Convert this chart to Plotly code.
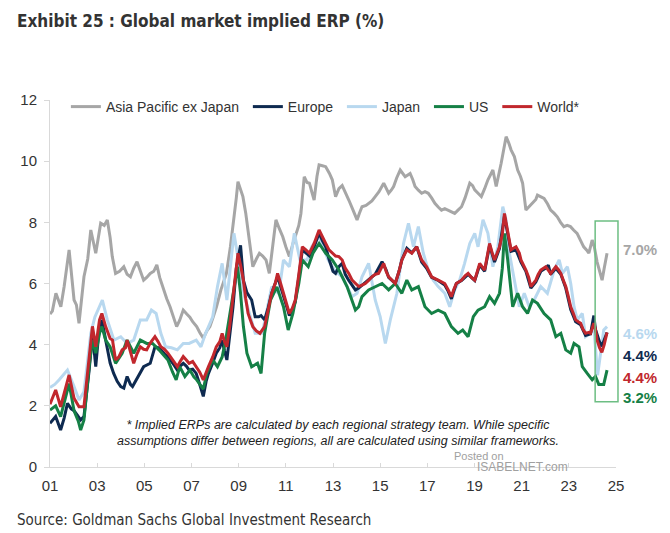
import plotly.graph_objects as go

# ---------------- data (decimal years, ERP %) ----------------
apxj_t = [2001.00, 2001.10, 2001.25, 2001.46, 2001.60, 2001.81, 2002.02, 2002.12, 2002.23, 2002.44,
          2002.60, 2002.73, 2002.94, 2003.15, 2003.30, 2003.43, 2003.55, 2003.64, 2003.78, 2003.95,
          2004.13, 2004.27, 2004.41, 2004.55, 2004.69, 2004.85, 2004.97, 2005.10, 2005.25, 2005.40,
          2005.53, 2005.65, 2005.81, 2005.95, 2006.09, 2006.25, 2006.37, 2006.50, 2006.65, 2006.80,
          2006.93, 2007.05, 2007.22, 2007.35, 2007.50, 2007.65, 2007.78, 2007.92, 2008.06, 2008.25,
          2008.48, 2008.65, 2008.76, 2008.90, 2008.97, 2009.08, 2009.18, 2009.30, 2009.39, 2009.50,
          2009.60, 2009.75, 2009.88, 2010.02, 2010.16, 2010.30, 2010.45, 2010.58, 2010.72, 2010.87,
          2011.00, 2011.15, 2011.30, 2011.43, 2011.55, 2011.64, 2011.78, 2011.90, 2012.00, 2012.10,
          2012.20, 2012.32, 2012.41, 2012.55, 2012.69, 2012.85, 2012.97, 2013.11, 2013.25, 2013.39,
          2013.52, 2013.67, 2013.85, 2014.02, 2014.12, 2014.23, 2014.40, 2014.51, 2014.65, 2014.79,
          2014.95, 2015.15, 2015.25, 2015.36, 2015.47, 2015.57, 2015.70, 2015.85, 2016.06, 2016.27,
          2016.38, 2016.48, 2016.62, 2016.76, 2016.90, 2017.04, 2017.18, 2017.32, 2017.46, 2017.60,
          2017.74, 2017.88, 2018.02, 2018.16, 2018.30, 2018.45, 2018.60, 2018.80, 2018.92, 2019.01,
          2019.15, 2019.29, 2019.43, 2019.57, 2019.78, 2019.92, 2020.13, 2020.25, 2020.34, 2020.45,
          2020.55, 2020.69, 2020.83, 2020.95, 2021.04, 2021.18, 2021.30, 2021.46, 2021.60, 2021.67,
          2021.80, 2021.95, 2022.10, 2022.23, 2022.37, 2022.51, 2022.65, 2022.79, 2022.93, 2023.07,
          2023.20, 2023.35, 2023.50, 2023.63, 2023.75, 2023.85, 2023.99, 2024.08, 2024.20, 2024.30,
          2024.41, 2024.50, 2024.62]
apxj_v = [5.0, 5.1, 5.68, 5.24, 5.9, 7.1, 5.46, 5.3, 4.7, 6.22,
          6.8, 7.75, 6.99, 7.97, 7.9, 8.08, 7.5, 6.88, 6.33, 6.4,
          6.55, 6.3, 6.22, 6.5, 6.71, 6.4, 6.11, 6.2, 6.33, 6.4,
          6.61, 6.2, 5.79, 5.5, 5.24, 4.9, 4.59, 4.8, 5.13, 5.0,
          4.9, 4.75, 4.59, 4.4, 4.21, 4.45, 4.59, 4.9, 5.24, 5.8,
          6.33, 7.2, 7.86, 8.8, 9.33, 9.1, 8.84, 8.3, 7.75, 7.0,
          6.55, 6.8, 6.99, 6.9, 6.77, 6.33, 7.3, 8.08, 7.8, 7.53,
          7.2, 6.88, 7.3, 7.64, 7.9, 8.29, 9.49, 9.3, 9.28, 9.0,
          8.73, 9.5, 9.88, 9.85, 9.82, 9.6, 9.39, 8.84, 9.1, 9.2,
          9.0, 8.73, 8.4, 8.08, 8.3, 8.51, 8.55, 8.62, 8.7, 8.84,
          9.0, 9.28, 9.1, 8.95, 9.05, 9.17, 9.45, 9.71, 9.49, 9.6,
          9.4, 9.17, 9.05, 8.95, 9.0, 8.95, 8.8, 8.62, 8.5, 8.4,
          8.45, 8.4, 8.35, 8.29, 8.4, 8.51, 8.8, 9.28, 9.2, 9.06,
          8.95, 8.84, 9.1, 9.39, 9.71, 9.17, 9.93, 10.5, 10.8, 10.6,
          10.37, 10.15, 9.71, 9.5, 9.28, 8.4, 8.5, 8.62, 8.75, 8.89,
          8.85, 8.78, 8.6, 8.4, 8.3, 8.18, 8.0, 7.86, 7.9, 7.86,
          7.75, 7.64, 7.4, 7.2, 7.1, 6.99, 7.42, 7.2, 6.7, 6.4,
          6.11, 6.5, 6.99]

europe_t = [2001.00, 2001.24, 2001.45, 2001.60, 2001.74, 2001.90, 2002.02, 2002.30, 2002.44, 2002.66,
            2002.80, 2002.94, 2003.08, 2003.20, 2003.36, 2003.55, 2003.70, 2003.85, 2004.00, 2004.13,
            2004.27, 2004.41, 2004.50, 2004.65, 2004.80, 2004.97, 2005.25, 2005.45, 2005.58, 2005.70,
            2005.85, 2006.00, 2006.20, 2006.40, 2006.52, 2006.65, 2006.78, 2006.90, 2007.05, 2007.20,
            2007.35, 2007.50, 2007.62, 2007.72, 2007.90, 2008.05, 2008.20, 2008.30, 2008.40, 2008.50,
            2008.62, 2008.76, 2008.90, 2009.00, 2009.08, 2009.20, 2009.35, 2009.55, 2009.70, 2009.85,
            2009.95, 2010.10, 2010.25, 2010.40, 2010.55, 2010.65, 2010.78, 2010.90, 2011.05, 2011.15,
            2011.28, 2011.40, 2011.55, 2011.70, 2011.85, 2012.00, 2012.20, 2012.41, 2012.55, 2012.69,
            2012.83, 2013.00, 2013.11, 2013.25, 2013.39, 2013.52, 2013.67, 2013.95, 2014.09, 2014.23,
            2014.40, 2014.55, 2014.79, 2015.08, 2015.25, 2015.36, 2015.50, 2015.64, 2015.80, 2015.92,
            2016.13, 2016.34, 2016.55, 2016.65, 2016.76, 2016.97, 2017.18, 2017.46, 2017.74, 2017.88,
            2018.02, 2018.12, 2018.23, 2018.45, 2018.73, 2019.01, 2019.22, 2019.43, 2019.64, 2019.85,
            2020.06, 2020.27, 2020.41, 2020.55, 2020.76, 2020.97, 2021.18, 2021.39, 2021.60, 2021.81,
            2022.02, 2022.13, 2022.23, 2022.45, 2022.66, 2022.87, 2023.08, 2023.29, 2023.50, 2023.71,
            2023.92, 2024.06, 2024.13, 2024.30, 2024.40, 2024.50, 2024.62]
europe_v = [1.43, 1.65, 1.21, 1.6, 2.08, 1.9, 1.84, 1.54, 1.65, 3.17,
            4.37, 3.28, 4.48, 4.81, 4.15, 3.4, 3.06, 2.8, 2.63, 2.58,
            2.96, 2.7, 2.63, 2.85, 3.06, 3.28, 3.39, 3.93, 3.9, 3.83,
            3.7, 3.61, 3.4, 3.17, 3.3, 3.39, 3.3, 3.17, 3.2, 3.06,
            2.7, 2.31, 2.8, 3.06, 3.4, 3.72, 3.9, 4.15, 3.8, 3.5,
            4.3, 5.24, 6.5, 7.0, 7.25, 6.11, 5.7, 5.46, 4.91, 4.91,
            4.95, 4.81, 5.2, 5.68, 6.0, 6.22, 5.9, 5.6, 5.2, 4.95,
            5.15, 5.4, 6.2, 7.1, 7.0, 6.9, 7.2, 7.65, 7.4, 7.2,
            6.8, 6.4, 6.33, 6.55, 6.66, 6.3, 6.1, 5.79, 5.85, 5.95,
            6.05, 6.15, 6.3, 6.71, 6.45, 6.2, 6.1, 6.0, 6.4, 6.77,
            7.15, 7.0, 7.2, 6.95, 6.7, 6.5, 6.2, 6.1, 5.95, 5.75,
            5.5, 5.75, 6.0, 6.1, 6.3, 6.1, 6.6, 6.4, 7.25, 6.7,
            7.15, 8.2, 7.6, 7.05, 7.1, 6.7, 6.4, 5.85, 6.05, 6.4,
            6.5, 6.6, 6.3, 6.5, 6.3, 5.85, 5.15, 4.75, 4.65, 4.3,
            4.35, 4.95, 4.5, 4.1, 3.95, 4.15, 4.4]

japan_t = [2001.00, 2001.20, 2001.39, 2001.55, 2001.74, 2002.02, 2002.23, 2002.44, 2002.73, 2002.90,
           2003.22, 2003.43, 2003.71, 2004.00, 2004.27, 2004.55, 2004.83, 2005.10, 2005.30, 2005.50,
           2005.70, 2005.90, 2006.15, 2006.40, 2006.65, 2006.90, 2007.20, 2007.40, 2007.60, 2007.90,
           2008.10, 2008.30, 2008.50, 2008.80, 2009.00, 2009.25, 2009.50, 2009.70, 2010.00, 2010.40,
           2010.70, 2010.90, 2011.15, 2011.36, 2011.60, 2011.90, 2012.10, 2012.40, 2012.80, 2013.10,
           2013.39, 2013.81, 2014.02, 2014.23, 2014.51, 2014.79, 2015.00, 2015.22, 2015.43, 2015.71,
           2015.99, 2016.20, 2016.41, 2016.62, 2016.83, 2017.04, 2017.25, 2017.46, 2017.74, 2017.95,
           2018.16, 2018.37, 2018.58, 2018.80, 2019.01, 2019.15, 2019.36, 2019.57, 2019.78, 2019.99,
           2020.20, 2020.34, 2020.48, 2020.69, 2020.90, 2021.11, 2021.32, 2021.53, 2021.81, 2022.09,
           2022.38, 2022.59, 2022.73, 2022.94, 2023.08, 2023.22, 2023.36, 2023.57, 2023.71, 2023.92,
           2024.06, 2024.22, 2024.34, 2024.48, 2024.62]
japan_v = [2.6, 2.7, 2.85, 3.0, 3.17, 2.63, 2.19, 2.46, 4.37, 4.9,
           5.46, 4.81, 4.15, 4.26, 4.04, 4.15, 4.81, 4.81, 5.13, 5.02,
           4.37, 3.93, 3.9, 3.83, 4.04, 4.04, 4.15, 3.93, 4.37, 4.91,
           5.89, 6.66, 5.46, 7.64, 6.77, 5.57, 4.91, 4.37, 4.37, 5.89,
           5.68, 6.77, 6.55, 7.64, 6.77, 6.77, 7.2, 7.53, 6.77, 6.4,
           6.22, 5.57, 5.68, 6.22, 6.66, 5.46, 4.92, 4.04, 4.81, 5.68,
           7.31, 7.97, 7.2, 7.86, 6.99, 6.44, 6.11, 5.9, 5.68, 5.24,
           5.79, 6.11, 6.66, 7.31, 7.64, 7.2, 8.08, 7.64, 6.55, 7.2,
           8.51, 8.08, 6.99, 6.11, 5.24, 5.68, 5.24, 5.46, 5.9, 5.68,
           6.44, 6.77, 6.33, 6.55, 6.0, 5.24, 4.81, 5.02, 4.26, 4.37,
           4.59, 3.0, 3.72, 4.48, 4.59]

us_t = [2001.00, 2001.24, 2001.45, 2001.62, 2001.81, 2002.02, 2002.20, 2002.30, 2002.44, 2002.66,
        2002.80, 2002.94, 2003.10, 2003.20, 2003.36, 2003.55, 2003.78, 2004.06, 2004.27, 2004.55,
        2004.83, 2005.10, 2005.35, 2005.62, 2005.90, 2006.00, 2006.20, 2006.35, 2006.50, 2006.72,
        2006.93, 2007.10, 2007.22, 2007.40, 2007.50, 2007.65, 2007.90, 2008.10, 2008.30, 2008.45,
        2008.75, 2008.95, 2009.08, 2009.20, 2009.35, 2009.55, 2009.80, 2009.95, 2010.10, 2010.35,
        2010.62, 2010.90, 2011.10, 2011.30, 2011.55, 2011.70, 2011.95, 2012.15, 2012.41, 2012.69,
        2012.97, 2013.25, 2013.60, 2013.95, 2014.09, 2014.23, 2014.51, 2014.79, 2015.08, 2015.36,
        2015.64, 2015.92, 2016.13, 2016.34, 2016.62, 2016.90, 2017.18, 2017.46, 2017.74, 2018.02,
        2018.30, 2018.50, 2018.73, 2018.95, 2019.15, 2019.43, 2019.64, 2019.85, 2020.06, 2020.18,
        2020.27, 2020.41, 2020.62, 2020.83, 2021.04, 2021.25, 2021.46, 2021.67, 2021.95, 2022.23,
        2022.45, 2022.66, 2022.87, 2023.08, 2023.22, 2023.43, 2023.57, 2023.78, 2023.99, 2024.13,
        2024.27, 2024.48, 2024.62]
us_v = [1.86, 2.0, 1.65, 2.2, 2.73, 1.84, 1.5, 1.21, 1.54, 3.28,
        4.15, 3.72, 4.37, 4.59, 4.15, 3.93, 3.39, 3.72, 4.15, 3.72,
        4.15, 4.04, 4.04, 3.83, 3.61, 3.5, 3.1, 2.85, 3.28, 2.96,
        3.17, 2.95, 2.85, 2.63, 2.55, 3.06, 3.5, 3.28, 3.6, 4.15,
        5.68, 6.55, 5.68, 4.6, 3.72, 3.28, 3.39, 3.06, 4.37, 5.46,
        5.89, 5.24, 4.48, 5.02, 6.0, 6.77, 6.55, 6.99, 7.31, 6.99,
        6.77, 6.44, 5.89, 5.13, 5.24, 5.57, 5.79, 5.9, 6.0, 5.79,
        6.0, 5.68, 6.11, 5.79, 5.9, 5.24, 5.02, 5.13, 5.02, 4.59,
        4.37, 4.48, 4.26, 4.92, 5.13, 5.24, 5.57, 5.35, 5.68, 6.5,
        7.64, 6.77, 5.24, 5.68, 5.24, 5.02, 5.46, 5.35, 5.02, 4.81,
        4.26, 4.37, 3.83, 3.72, 4.04, 3.93, 3.28, 3.06, 2.85, 2.96,
        2.7, 2.7, 3.17]

world_t = [2001.00, 2001.24, 2001.45, 2001.62, 2001.81, 2002.02, 2002.23, 2002.44, 2002.66, 2002.80,
           2002.94, 2003.10, 2003.20, 2003.36, 2003.55, 2003.65, 2003.78, 2003.92, 2004.06, 2004.20,
           2004.27, 2004.41, 2004.55, 2004.69, 2004.83, 2004.97, 2005.10, 2005.25, 2005.45, 2005.58,
           2005.70, 2005.85, 2006.00, 2006.20, 2006.40, 2006.52, 2006.65, 2006.78, 2006.90, 2007.05,
           2007.20, 2007.35, 2007.50, 2007.62, 2007.72, 2007.90, 2008.05, 2008.20, 2008.30, 2008.40,
           2008.50, 2008.62, 2008.76, 2008.90, 2008.97, 2009.08, 2009.20, 2009.30, 2009.40, 2009.50,
           2009.60, 2009.75, 2009.90, 2010.10, 2010.25, 2010.40, 2010.55, 2010.65, 2010.78, 2010.90,
           2011.05, 2011.15, 2011.28, 2011.40, 2011.55, 2011.70, 2011.85, 2012.00, 2012.10, 2012.20,
           2012.41, 2012.55, 2012.69, 2012.83, 2012.97, 2013.11, 2013.25, 2013.39, 2013.52, 2013.67,
           2013.81, 2014.09, 2014.23, 2014.37, 2014.51, 2014.65, 2014.79, 2014.93, 2015.15, 2015.25,
           2015.36, 2015.50, 2015.64, 2015.80, 2015.92, 2016.13, 2016.34, 2016.55, 2016.65, 2016.76,
           2016.97, 2017.18, 2017.46, 2017.60, 2017.74, 2017.88, 2018.02, 2018.12, 2018.23, 2018.45,
           2018.60, 2018.73, 2018.87, 2019.01, 2019.12, 2019.22, 2019.43, 2019.55, 2019.64, 2019.75,
           2019.85, 2020.06, 2020.18, 2020.27, 2020.41, 2020.55, 2020.65, 2020.76, 2020.90, 2020.97,
           2021.18, 2021.30, 2021.39, 2021.50, 2021.60, 2021.70, 2021.81, 2022.02, 2022.13, 2022.23,
           2022.35, 2022.45, 2022.56, 2022.66, 2022.77, 2022.87, 2022.97, 2023.08, 2023.20, 2023.29,
           2023.40, 2023.50, 2023.60, 2023.71, 2023.85, 2023.92, 2024.06, 2024.13, 2024.20, 2024.30,
           2024.40, 2024.50, 2024.62]
world_v = [2.05, 2.52, 1.97, 2.5, 3.01, 2.25, 1.97, 1.97, 3.5, 4.6,
           3.93, 4.81, 5.02, 4.59, 4.2, 4.15, 3.5, 3.6, 3.83, 3.9,
           4.15, 3.8, 3.39, 3.7, 3.93, 3.85, 3.83, 4.05, 4.26, 4.1,
           3.93, 3.85, 3.72, 3.5, 3.28, 3.45, 3.61, 3.5, 3.39, 3.45,
           3.28, 3.1, 2.85, 3.1, 3.28, 3.6, 3.93, 4.1, 4.37, 4.1,
           3.93, 4.6, 5.57, 6.6, 6.99, 6.6, 6.11, 5.5, 5.02, 4.8,
           4.59, 4.45, 4.37, 4.59, 5.2, 5.68, 6.0, 6.33, 6.0, 5.68,
           5.3, 5.02, 5.2, 5.46, 6.3, 7.2, 7.1, 6.99, 7.15, 7.31,
           7.75, 7.5, 7.31, 7.1, 6.99, 6.9, 6.88, 6.77, 6.5, 6.33,
           6.11, 5.9, 5.95, 6.0, 6.1, 6.22, 6.3, 6.33, 6.66, 6.4,
           6.22, 6.1, 6.0, 6.4, 6.77, 7.1, 6.99, 7.2, 7.0, 6.77,
           6.55, 6.22, 6.11, 6.05, 6.0, 5.8, 5.57, 5.8, 6.0, 6.11,
           6.25, 6.33, 6.2, 6.11, 6.4, 6.66, 6.44, 6.9, 7.31, 7.0,
           6.77, 7.2, 7.6, 8.29, 7.64, 7.1, 7.15, 7.2, 7.0, 6.77,
           6.44, 6.2, 5.9, 6.0, 6.11, 6.3, 6.44, 6.55, 6.45, 6.33,
           6.45, 6.55, 6.45, 6.33, 6.1, 5.9, 5.6, 5.24, 5.0, 4.81,
           4.75, 4.7, 4.5, 4.37, 4.4, 4.37, 4.7, 4.5, 4.15, 3.9,
           3.75, 4.0, 4.4]

series_names = ["Asia Pacific ex Japan", "Europe", "Japan", "US", "World*"]
series_colors = ["#A6A6A6", "#0E2A50", "#B8D8EF", "#158046", "#C1272D"]
legend_ranks = [1, 2, 3, 4, 5]

end_labels = ["7.0%", "4.6%", "4.4%", "4.4%", "3.2%"]
end_label_colors = ["#A6A6A6", "#B8D8EF", "#0E2A50", "#C1272D", "#158046"]
end_label_pos = [7.1, 4.38, 3.63, 2.94, 2.26]   # y positions of the staggered labels

x_tickvals = [2001, 2003, 2005, 2007, 2009, 2011, 2013, 2015, 2017, 2019, 2021, 2023, 2025]
x_ticktext = ["01", "03", "05", "07", "09", "11", "13", "15", "17", "19", "21", "23", "25"]
y_tickvals = [0, 2, 4, 6, 8, 10, 12]

box_y = [2.13, 8.04]

# ---------------- figure ----------------
fig = go.Figure()
data_sets = {
    "Asia Pacific ex Japan": (apxj_t, apxj_v),
    "Europe": (europe_t, europe_v),
    "Japan": (japan_t, japan_v),
    "US": (us_t, us_v),
    "World*": (world_t, world_v),
}
draw_order = ["Asia Pacific ex Japan", "Japan", "Europe", "US", "World*"]
for name in draw_order:
    i = series_names.index(name)
    t, v = data_sets[name]
    fig.add_trace(go.Scatter(
        x=t, y=v, mode="lines", name=name + "\u00a0",
        line=dict(color=series_colors[i], width=3),
        legendrank=legend_ranks[i],
    ))

# page body has an 8px margin: work in reference-pixel coordinates and shift
OFF = 8
W, H = 662, 525
L = 46 - OFF
T = 100 - OFF
R = W - (616 - OFF)
B = H - (467 - OFF)
pw = W - L - R
ph = H - T - B

def px_x(px):
    return (px - OFF - L) / pw

def px_y(py):
    return (H - B - (py - OFF)) / ph

axis_col = "#D9D9D9"
tick_font = dict(family="Arial, Liberation Sans, sans-serif", size=15, color="#333333")

fig.update_layout(
    width=W, height=H,
    margin=dict(l=L, r=R, t=T, b=B, pad=0),
    paper_bgcolor="white", plot_bgcolor="white",
    showlegend=True,
    legend=dict(
        orientation="h", x=px_x(62), xanchor="left", y=px_y(107), yanchor="middle",
        font=dict(family="Arial, Liberation Sans, sans-serif", size=14, color="#333333"),
        bgcolor="rgba(0,0,0,0)", itemwidth=30, traceorder="normal",
    ),
    xaxis=dict(
        range=[2001, 2025], tickmode="array", tickvals=x_tickvals, ticktext=x_ticktext,
        showgrid=False, zeroline=False, showline=True, linecolor=axis_col, linewidth=1,
        ticks="inside", ticklen=4, tickcolor=axis_col, tickfont=tick_font,
        ticklabelstandoff=5,
    ),
    yaxis=dict(
        range=[0, 12], tickmode="array", tickvals=y_tickvals,
        showgrid=False, zeroline=False, showline=True, linecolor=axis_col, linewidth=1,
        ticks="outside", ticklen=5, tickcolor=axis_col, tickfont=tick_font,
        ticklabelstandoff=4,
    ),
)

# green highlight box
fig.add_shape(type="rect", xref="paper", yref="y",
              x0=px_x(595), x1=px_x(618), y0=box_y[0], y1=box_y[1],
              line=dict(color="#6DBE83", width=1.5), fillcolor="rgba(0,0,0,0)")

# end labels
for txt, col, yv in zip(end_labels, end_label_colors, end_label_pos):
    fig.add_annotation(x=px_x(621), xref="paper", y=yv, yref="y", text=txt,
                       showarrow=False, xanchor="left", yanchor="middle",
                       font=dict(family="Arial, Liberation Sans, sans-serif", size=15,
                                 color=col, weight="bold"))

title_font = "DejaVu Sans Condensed, Roboto, Arial, sans-serif"
fig.add_annotation(x=px_x(11), xref="paper", y=px_y(21), yref="paper",
                   text="<b>Exhibit 25 : Global market implied ERP (%)</b>",
                   showarrow=False, xanchor="left", yanchor="middle",
                   font=dict(family=title_font, size=17, color="#333333"))

fig.add_annotation(x=px_x(11), xref="paper", y=px_y(520), yref="paper",
                   text="Source: Goldman Sachs Global Investment Research",
                   showarrow=False, xanchor="left", yanchor="middle",
                   font=dict(family=title_font, size=15, color="#333333"))

fig.add_annotation(x=px_x(336), xref="paper", y=px_y(433), yref="paper",
                   text="<i>* Implied ERPs are calculated by each regional strategy team. While specific<br>"
                        "assumptions differ between regions, all are calculated using similar frameworks.</i>",
                   showarrow=False, xanchor="center", yanchor="middle", align="center",
                   font=dict(family="Arial, Liberation Sans, sans-serif", size=12.5, color="#222222"))

# watermark
fig.add_annotation(x=px_x(478), xref="paper", y=px_y(456), yref="paper", text="Posted on",
                   showarrow=False, xanchor="center", yanchor="middle",
                   font=dict(family="Arial, Liberation Sans, sans-serif", size=11, color="#A0A0A0"))
fig.add_annotation(x=px_x(522), xref="paper", y=px_y(467), yref="paper", text="ISABELNET.com",
                   showarrow=False, xanchor="center", yanchor="middle",
                   font=dict(family="Arial, Liberation Sans, sans-serif", size=12, color="#A0A0A0"))

fig.write_html("out.html")
